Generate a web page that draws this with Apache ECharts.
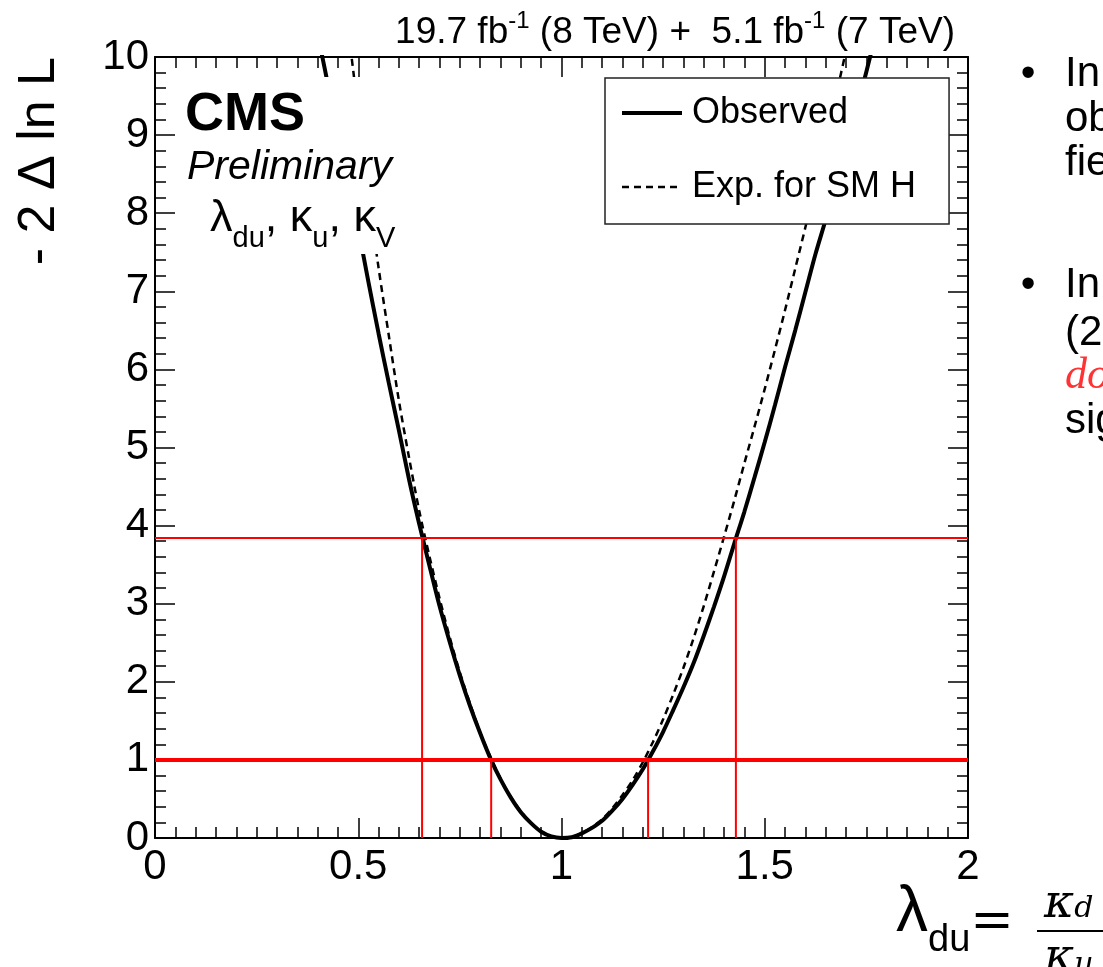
<!DOCTYPE html>
<html><head><meta charset="utf-8">
<script src="https://cdn.jsdelivr.net/npm/echarts@6/dist/echarts.min.js"></script>
<style>html,body{margin:0;padding:0;background:#fff}#c{width:1103px;height:967px}</style>
</head><body><div id="c"></div>
<script>
// ---- data ----
const obsX = [0.400,0.425,0.450,0.475,0.500,0.525,0.550,0.575,0.600,0.625,0.650,0.675,0.700,0.725,0.750,0.775,0.800,0.825,0.850,0.875,0.900,0.925,0.950,0.975,1.000,1.025,1.050,1.075,1.100,1.125,1.150,1.175,1.200,1.225,1.250,1.275,1.300,1.325,1.350,1.375,1.400,1.425,1.450,1.475,1.500,1.525,1.550,1.575,1.600,1.625,1.650,1.675,1.700,1.725,1.750,1.775];
const obsY = [10.30,9.66,9.03,8.41,7.80,7.12,6.46,5.83,5.22,4.59,4.02,3.49,2.97,2.51,2.08,1.69,1.34,1.02,0.75,0.52,0.33,0.19,0.08,0.02,0.00,0.01,0.06,0.13,0.22,0.35,0.50,0.68,0.88,1.11,1.36,1.64,1.93,2.24,2.59,2.96,3.35,3.77,4.18,4.62,5.07,5.54,6.03,6.50,6.99,7.48,7.92,8.39,8.87,9.32,9.81,10.34];
const expX = [0.450,0.475,0.500,0.525,0.550,0.575,0.600,0.625,0.650,0.675,0.700,0.725,0.750,0.775,0.800,0.825,0.850,0.875,0.900,0.925,0.950,0.975,1.000,1.025,1.050,1.075,1.100,1.125,1.150,1.175,1.200,1.225,1.250,1.275,1.300,1.325,1.350,1.375,1.400,1.425,1.450,1.475,1.500,1.525,1.550,1.575,1.600,1.625,1.650,1.675,1.700,1.725];
const expY = [11.50,10.37,9.30,8.24,7.30,6.44,5.60,4.87,4.19,3.61,3.07,2.57,2.12,1.72,1.35,1.04,0.76,0.53,0.34,0.19,0.085,0.02,0.00,0.015,0.06,0.14,0.24,0.38,0.55,0.74,0.97,1.23,1.52,1.84,2.18,2.56,2.97,3.41,3.86,4.32,4.80,5.27,5.75,6.25,6.76,7.29,7.82,8.37,8.93,9.50,10.08,10.66];
const level68 = 1.0;
const level95 = 3.84;
const cross68 = [0.827, 1.213];
const cross95 = [0.657, 1.429];
const seriesNames = ['Observed', 'Exp. for SM H'];

const FF = '"Liberation Sans", Arial, sans-serif';
const SERIF = '"DejaVu Serif", serif';
const chart = echarts.init(document.getElementById('c'), null, {renderer: 'canvas'});

function pairs(xs, ys) { return xs.map((x, i) => [x, ys[i]]); }

const xBase = {
  type: 'value', min: 0, max: 2, interval: 0.5,
  axisLine: {show: true, onZero: false, lineStyle: {color: '#000', width: 2}},
  axisTick: {show: true, inside: true, length: 20, lineStyle: {color: '#000', width: 1.5}},
  minorTick: {show: true, splitNumber: 10, length: 11, lineStyle: {color: '#000', width: 1.5}},
  splitLine: {show: false}, minorSplitLine: {show: false}
};
const yBase = {
  type: 'value', min: 0, max: 10, interval: 1,
  axisLine: {show: true, onZero: false, lineStyle: {color: '#000', width: 2}},
  axisTick: {show: true, inside: true, length: 20, lineStyle: {color: '#000', width: 1.5}},
  minorTick: {show: true, splitNumber: 5, length: 11, lineStyle: {color: '#000', width: 1.5}},
  splitLine: {show: false}, minorSplitLine: {show: false}
};

const redSeries = [];
[level68, level95].forEach((lv, i) => {
  redSeries.push({
    name: 'h' + i, type: 'line', symbol: 'none', silent: true, z: 4,
    lineStyle: {color: '#ff0000', width: i === 0 ? 4 : 2},
    data: [[0, lv], [2, lv]]
  });
});
cross68.forEach((x, i) => redSeries.push({
  name: 'v68_' + i, type: 'line', symbol: 'none', silent: true, z: 4,
  lineStyle: {color: '#ff0000', width: 2}, data: [[x, 0], [x, level68]]
}));
cross95.forEach((x, i) => redSeries.push({
  name: 'v95_' + i, type: 'line', symbol: 'none', silent: true, z: 4,
  lineStyle: {color: '#ff0000', width: 2}, data: [[x, 0], [x, level95]]
}));

const option = {
  animation: false,
  backgroundColor: '#fff',
  grid: {left: 155, right: 135, top: 57, bottom: 129, containLabel: false},
  xAxis: [
    Object.assign({}, xBase, {position: 'bottom',
      axisLabel: {show: true, fontSize: 42, fontFamily: FF, color: '#000', margin: 8}}),
    Object.assign({}, xBase, {position: 'top', axisLabel: {show: false}})
  ],
  yAxis: [
    Object.assign({}, yBase, {position: 'left',
      axisLabel: {show: true, fontSize: 42, fontFamily: FF, color: '#000', margin: 6}}),
    Object.assign({}, yBase, {position: 'right', axisLabel: {show: false}})
  ],
  legend: {
    data: seriesNames, orient: 'vertical', left: 605, top: 78,
    backgroundColor: '#fff', borderColor: '#222', borderWidth: 1.5,
    padding: [15, 33, 17, 15], itemGap: 34, itemWidth: 60, itemHeight: 3,
    selectedMode: false,
    itemStyle: {opacity: 0},
    lineStyle: {width: 'inherit', type: 'inherit', color: 'inherit'},
    textStyle: {fontSize: 36, fontFamily: FF, color: '#000', lineHeight: 40, padding: [0, 0, 0, 5]}
  },
  series: [
    {name: seriesNames[0], type: 'line', symbol: 'none', smooth: 0.3, z: 3, silent: true,
      lineStyle: {color: '#000', width: 4}, itemStyle: {color: '#000'},
      data: pairs(obsX, obsY)},
    {name: seriesNames[1], type: 'line', symbol: 'none', smooth: 0.3, z: 3, silent: true,
      lineStyle: {color: '#000', width: 2.5, type: [7, 5]}, itemStyle: {color: '#000'},
      data: pairs(expX, expY)}
  ].concat(redSeries),
  graphic: {elements: [
    // y axis title
    {type: 'text', x: 40, y: 57, rotation: Math.PI / 2, z: 10,
      style: {text: '- 2 \u0394 ln L', fontSize: 52, fontFamily: FF, fill: '#000', align: 'right', verticalAlign: 'middle'}},
    // luminosity header
    {type: 'text', x: 955, y: 21, z: 10,
      style: {text: '{n|19.7 fb}{s|-1}{n| (8 TeV) +  5.1 fb}{s|-1}{n| (7 TeV)}', align: 'right', verticalAlign: 'middle',
        rich: {n: {fontSize: 37, fontFamily: FF, fill: '#000', height: 40, verticalAlign: 'bottom'},
               s: {fontSize: 24, fontFamily: FF, fill: '#000', height: 64, verticalAlign: 'bottom'}}}},
    // white pave behind CMS label
    {type: 'rect', shape: {x: 300, y: 77, width: 115, height: 177}, z: 5, silent: true,
      style: {fill: '#fff', stroke: null}},
    {type: 'text', x: 185, y: 115, z: 10,
      style: {text: 'CMS', fontSize: 54, fontWeight: 'bold', fontFamily: FF, fill: '#000', verticalAlign: 'middle'}},
    {type: 'text', x: 187, y: 168, z: 10,
      style: {text: 'Preliminary', fontSize: 41, fontStyle: 'italic', fontFamily: FF, fill: '#000', verticalAlign: 'middle'}},
    {type: 'text', x: 210, y: 197, z: 10,
      style: {text: '{a|\u03bb}{s|du}{a|, \u03ba}{s|u}{a|, \u03ba}{s|V}', verticalAlign: 'top',
        rich: {a: {fontSize: 45, fontFamily: FF, fill: '#000', height: 44, verticalAlign: 'top'},
               s: {fontSize: 29, fontFamily: FF, fill: '#000', height: 84, verticalAlign: 'top'}}}},
    // x axis title
    {type: 'text', x: 896, y: 881, z: 10,
      style: {text: '{l|\u03bb}{s|du}{e|=}', verticalAlign: 'top',
        rich: {l: {fontSize: 64, fontFamily: FF, fill: '#000', height: 64, verticalAlign: 'top'},
               s: {fontSize: 38, fontFamily: FF, fill: '#000', height: 119, verticalAlign: 'top'},
               e: {fontSize: 52, fontFamily: SERIF, fill: '#000', height: 84, verticalAlign: 'top'}}}},
    {type: 'text', x: 1044, y: 882, z: 10,
      style: {text: '{k|\u03ba}{d|d}', verticalAlign: 'top',
        rich: {k: {fontSize: 46, fontStyle: 'italic', fontFamily: SERIF, fill: '#000', height: 46, verticalAlign: 'top'},
               d: {fontSize: 30, fontStyle: 'italic', fontFamily: SERIF, fill: '#000', height: 54, verticalAlign: 'top'}}}},
    {type: 'line', shape: {x1: 1037, y1: 931, x2: 1110, y2: 931}, z: 10, style: {stroke: '#000', lineWidth: 2}},
    {type: 'text', x: 1044, y: 936, z: 10,
      style: {text: '{k|\u03ba}{d|u}', verticalAlign: 'top',
        rich: {k: {fontSize: 46, fontStyle: 'italic', fontFamily: SERIF, fill: '#000', height: 46, verticalAlign: 'top'},
               d: {fontSize: 30, fontStyle: 'italic', fontFamily: SERIF, fill: '#000', height: 58, verticalAlign: 'top'}}}},
    // slide text on the right (cut off in the reference)
    {type: 'text', x: 1028, y: 74, z: 10, style: {text: '\u2022', fontSize: 42, fontFamily: FF, fill: '#000', align: 'center', verticalAlign: 'middle'}},
    {type: 'text', x: 1065, y: 74, z: 10, style: {text: 'In', fontSize: 42, fontFamily: FF, fill: '#000', verticalAlign: 'middle'}},
    {type: 'text', x: 1065, y: 119, z: 10, style: {text: 'ob', fontSize: 42, fontFamily: FF, fill: '#000', verticalAlign: 'middle'}},
    {type: 'text', x: 1065, y: 163, z: 10, style: {text: 'fie', fontSize: 42, fontFamily: FF, fill: '#000', verticalAlign: 'middle'}},
    {type: 'text', x: 1028, y: 285, z: 10, style: {text: '\u2022', fontSize: 42, fontFamily: FF, fill: '#000', align: 'center', verticalAlign: 'middle'}},
    {type: 'text', x: 1065, y: 285, z: 10, style: {text: 'In', fontSize: 42, fontFamily: FF, fill: '#000', verticalAlign: 'middle'}},
    {type: 'text', x: 1065, y: 333, z: 10, style: {text: '(2', fontSize: 42, fontFamily: FF, fill: '#000', verticalAlign: 'middle'}},
    {type: 'text', x: 1065, y: 376, z: 10, style: {text: 'do', fontSize: 44, fontStyle: 'italic', fontFamily: '"Liberation Serif", serif', fill: '#ff3333', verticalAlign: 'middle'}},
    {type: 'text', x: 1065, y: 421, z: 10, style: {text: 'sig', fontSize: 42, fontFamily: FF, fill: '#000', verticalAlign: 'middle'}}
  ]}
};
chart.setOption(option);
</script>
</body></html>
